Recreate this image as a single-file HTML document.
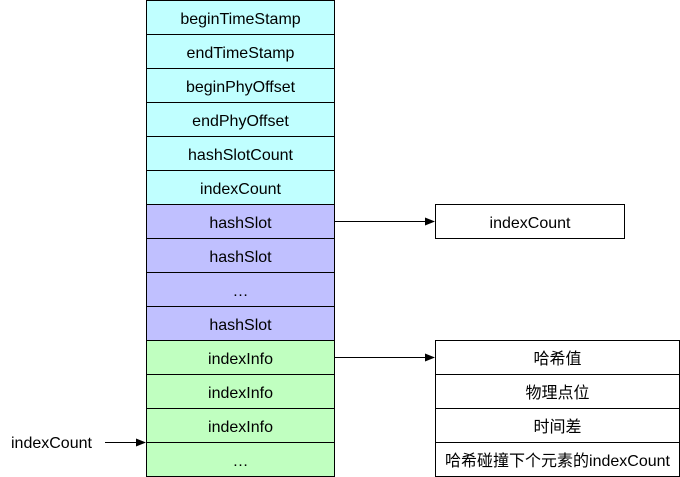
<!DOCTYPE html>
<html><head><meta charset="utf-8"><style>
html,body{margin:0;padding:0;background:#fff;}
svg{display:block;}
text{font-family:"Liberation Sans","Noto Sans CJK SC",sans-serif;font-size:16px;fill:#000;}
</style></head><body>
<svg width="680" height="477" viewBox="0 0 680 477" xmlns="http://www.w3.org/2000/svg">
<defs><marker id="a" markerWidth="10" markerHeight="8" refX="9" refY="4" orient="auto" markerUnits="userSpaceOnUse"><path d="M0,0 L10,4 L0,8 Z" fill="#000"/></marker></defs>
<g stroke="#000" stroke-width="1">
<rect x="146.5" y="0.5" width="188" height="34" fill="#c0ffff"/>
<rect x="146.5" y="34.5" width="188" height="34" fill="#c0ffff"/>
<rect x="146.5" y="68.5" width="188" height="34" fill="#c0ffff"/>
<rect x="146.5" y="102.5" width="188" height="34" fill="#c0ffff"/>
<rect x="146.5" y="136.5" width="188" height="34" fill="#c0ffff"/>
<rect x="146.5" y="170.5" width="188" height="34" fill="#c0ffff"/>
<rect x="146.5" y="204.5" width="188" height="34" fill="#c0c0ff"/>
<rect x="146.5" y="238.5" width="188" height="34" fill="#c0c0ff"/>
<rect x="146.5" y="272.5" width="188" height="34" fill="#c0c0ff"/>
<rect x="146.5" y="306.5" width="188" height="34" fill="#c0c0ff"/>
<rect x="146.5" y="340.5" width="188" height="34" fill="#c0ffc0"/>
<rect x="146.5" y="374.5" width="188" height="34" fill="#c0ffc0"/>
<rect x="146.5" y="408.5" width="188" height="34" fill="#c0ffc0"/>
<rect x="146.5" y="442.5" width="188" height="34" fill="#c0ffc0"/>
<rect x="435.5" y="204.5" width="189" height="34" fill="#fff"/>
<rect x="435.5" y="340.5" width="244" height="34" fill="#fff"/>
<rect x="435.5" y="374.5" width="244" height="34" fill="#fff"/>
<rect x="435.5" y="408.5" width="244" height="34" fill="#fff"/>
<rect x="435.5" y="442.5" width="244" height="34" fill="#fff"/>
<line x1="334.5" y1="221.5" x2="434" y2="221.5" marker-end="url(#a)"/>
<line x1="334.5" y1="357.5" x2="434" y2="357.5" marker-end="url(#a)"/>
<line x1="105" y1="442.5" x2="145" y2="442.5" marker-end="url(#a)"/>
</g>
<g text-anchor="middle">
<text x="240.5" y="24">beginTimeStamp</text>
<text x="240.5" y="58">endTimeStamp</text>
<text x="240.5" y="92">beginPhyOffset</text>
<text x="240.5" y="126">endPhyOffset</text>
<text x="240.5" y="160">hashSlotCount</text>
<text x="240.5" y="194">indexCount</text>
<text x="240.5" y="228">hashSlot</text>
<text x="240.5" y="262">hashSlot</text>
<text x="240.5" y="296">…</text>
<text x="240.5" y="330">hashSlot</text>
<text x="240.5" y="364">indexInfo</text>
<text x="240.5" y="398">indexInfo</text>
<text x="240.5" y="432">indexInfo</text>
<text x="240.5" y="466">…</text>
<text x="530" y="228">indexCount</text>
<text x="557.5" y="364">哈希值</text>
<text x="557.5" y="398">物理点位</text>
<text x="557.5" y="432">时间差</text>
<text x="557.5" y="466">哈希碰撞下个元素的indexCount</text>
</g>
<text x="11" y="448">indexCount</text>
</svg>
</body></html>
